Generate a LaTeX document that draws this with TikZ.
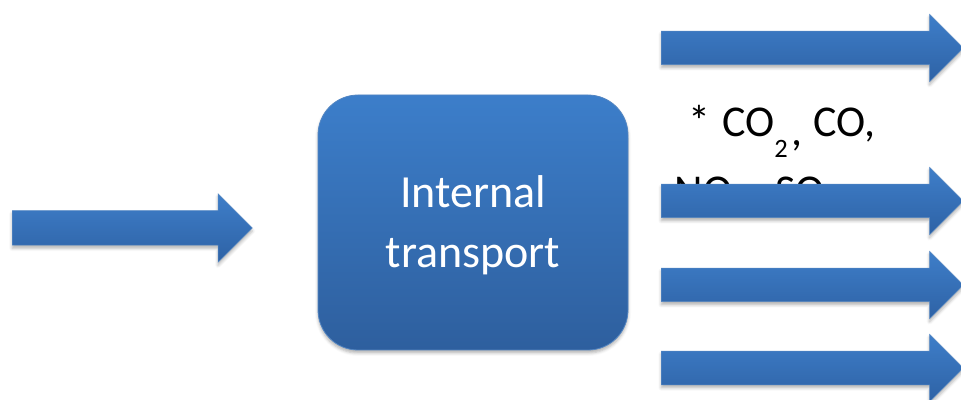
\documentclass[tikz,border=0pt]{standalone}
\usepackage{fontspec}
\setmainfont{Carlito}
\usetikzlibrary{shapes.arrows,shadows.blur}
\definecolor{boxtop}{RGB}{60,126,202}
\definecolor{boxbot}{RGB}{46,95,158}
\definecolor{arrtop}{RGB}{62,126,201}
\definecolor{arrbot}{RGB}{46,98,165}
\definecolor{edgeblue}{RGB}{84,134,194}
\newcommand{\subtwo}{\raisebox{-21pt}{\fontsize{26.5}{26.5}\selectfont 2}}
\begin{document}
\begin{tikzpicture}[x=1pt,y=1pt,
  softshadow/.style={blur shadow={shadow xshift=0pt,shadow yshift=-3pt,shadow blur radius=3pt,shadow opacity=30}},
  fatarrow/.style={single arrow, single arrow head extend=17pt, inner xsep=0pt, anchor=tail,
    top color=arrtop, bottom color=arrbot, draw=edgeblue, line width=0.5pt, softshadow},
  procbox/.style={rectangle, rounded corners=40pt, minimum width=310pt, minimum height=255pt,
    inner sep=0pt, top color=boxtop, bottom color=boxbot, draw=edgeblue, line width=0.8pt, softshadow},
  boxtext/.style={inner sep=0pt, text=white, font=\fontsize{46}{60}\selectfont, align=center},
  gastext/.style={anchor=base west, inner sep=0pt, font=\fontsize{44}{50}\selectfont, text=black}]
\useasboundingbox (0,0) rectangle (961,399);
% input arrow
\node[fatarrow, inner ysep=17pt, minimum height=240pt] (in) at (12,171) {};
% process box
\node[procbox] (box) at (473,176.5) {};
\node[boxtext] (boxlbl) at ([yshift=-3pt]box.center) {Internal\\transport};
% gas labels (partly hidden by the second output arrow)
\node[gastext] (g1) at (688,262) {*\hspace{12pt}CO\subtwo\hspace{4pt}\raisebox{-9pt}{,}\hspace{11pt}CO,};
\node[gastext] (g2) at (674.5,193) {NO\hspace{22pt}, SO};
% output arrows
\node[fatarrow, inner ysep=16.5pt, minimum height=302pt] (out1) at (661,351) {};
\node[fatarrow, inner ysep=16.5pt, minimum height=302pt] (out2) at (661,198) {};
\node[fatarrow, inner ysep=16.5pt, minimum height=302pt] (out3) at (661,114) {};
\node[fatarrow, inner ysep=16.5pt, minimum height=302pt] (out4) at (661,31) {};
\end{tikzpicture}
\end{document}
